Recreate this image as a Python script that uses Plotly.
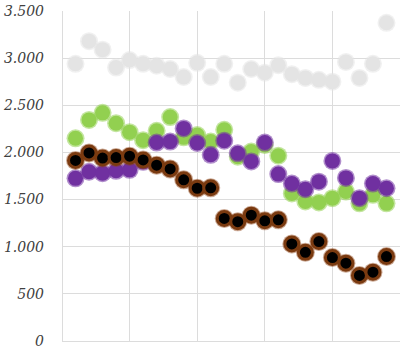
import plotly.graph_objects as go

x = list(range(1, 25))
gray = [2940, 3180, 3090, 2900, 2980, 2940, 2920, 2885, 2800, 2950, 2800, 2940,
        2740, 2885, 2845, 2925, 2830, 2790, 2770, 2750, 2960, 2790, 2940, 3375]
green = [2150, 2345, 2420, 2310, 2215, 2130, 2230, 2375, 2160, 2185, 2115, 2240,
         1955, 2010, 2080, 1965, 1565, 1480, 1470, 1515, 1585, 1460, 1550, 1460]
purple = [1725, 1795, 1780, 1805, 1815, 1900, 2105, 2115, 2255, 2100, 1975, 2125,
          1990, 1905, 2105, 1770, 1670, 1610, 1690, 1910, 1730, 1515, 1670, 1620]
black = [1915, 1995, 1940, 1945, 1960, 1920, 1865, 1825, 1710, 1620, 1625, 1300,
         1265, 1335, 1275, 1285, 1030, 940, 1055, 885, 825, 695, 730, 895]

fig = go.Figure()

def soft(ys, color, size, halo_color, halo_size):
    fig.add_trace(go.Scatter(x=x, y=ys, mode="markers", hoverinfo="skip",
                             marker=dict(size=halo_size, color=halo_color, line=dict(width=0))))
    fig.add_trace(go.Scatter(x=x, y=ys, mode="markers",
                             marker=dict(size=size, color=color, line=dict(width=0))))

soft(gray, "#e4e4e4", 15, "rgba(228,228,228,0.55)", 18)
soft(green, "#92d050", 15, "rgba(146,208,80,0.55)", 18)
soft(purple, "#7030a0", 15, "rgba(112,48,160,0.55)", 18)
fig.add_trace(go.Scatter(x=x, y=black, mode="markers", hoverinfo="skip",
                         marker=dict(size=19, color="rgba(140,65,20,0.45)", line=dict(width=0))))
fig.add_trace(go.Scatter(x=x, y=black, mode="markers",
                         marker=dict(size=14, color="#000000",
                                     line=dict(width=3, color="#7a3a10"))))

fig.update_layout(
    width=400, height=349,
    margin=dict(l=62, r=0, t=11, b=8),
    paper_bgcolor="white", plot_bgcolor="white",
    showlegend=False,
    separators=",.",
)
fig.update_xaxes(range=[0, 25], dtick=5, tick0=0, showticklabels=False,
                 showgrid=True, gridcolor="#dcdcdc", gridwidth=1,
                 zeroline=True, zerolinecolor="#dcdcdc", zerolinewidth=1,
                 showline=False, ticks="")
fig.update_yaxes(range=[0, 3500], dtick=500, tick0=0, tickformat=",.0f",
                 showgrid=True, gridcolor="#dcdcdc", gridwidth=1,
                 zeroline=True, zerolinecolor="#dcdcdc", zerolinewidth=1,
                 showline=False, ticks="",
                 ticklabelstandoff=17, ticklabeloverflow="allow",
                 tickfont=dict(family="'DejaVu Serif', serif", size=14, color="#404040",
                               style="italic"))

fig.write_html("out.html")
